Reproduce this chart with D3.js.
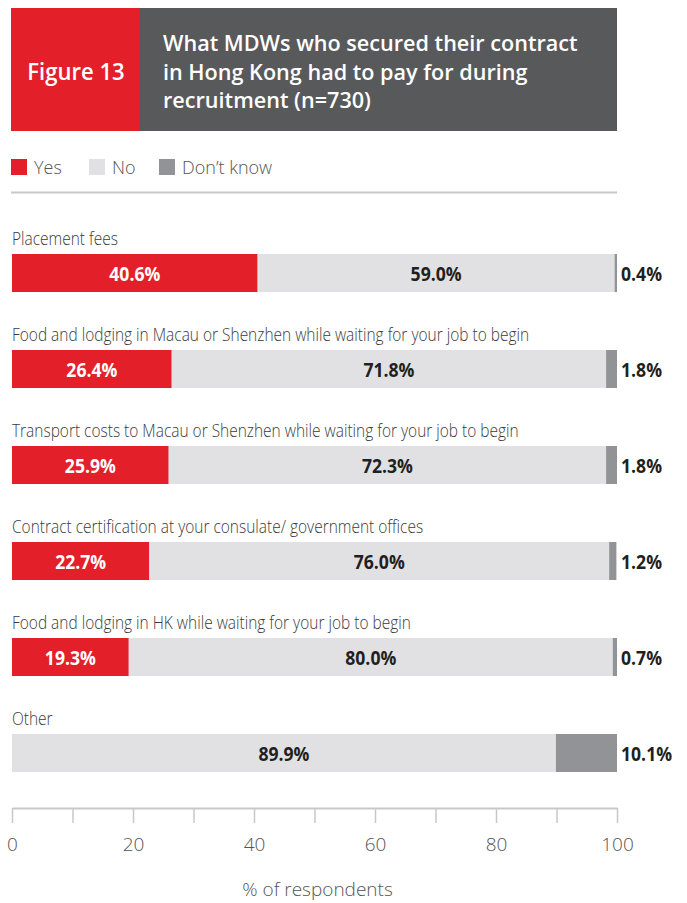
<!DOCTYPE html>
<html>
<head>
<meta charset="utf-8">
<script src="https://cdn.jsdelivr.net/npm/d3@7"></script>
<style>
  html, body { margin: 0; padding: 0; background: #fff; }
  svg { display: block; font-family: "Open Sans", "Noto Sans", sans-serif; }
</style>
</head>
<body>
<svg id="chart" width="687" height="903"></svg>
<script>
// Survey items and the share of respondents answering Yes / No / Don't know
const categories = [
  "Placement fees",
  "Food and lodging in Macau or Shenzhen while waiting for your job to begin",
  "Transport costs to Macau or Shenzhen while waiting for your job to begin",
  "Contract certification at your consulate/ government offices",
  "Food and lodging in HK while waiting for your job to begin",
  "Other"
];
const yesValues = [40.6, 26.4, 25.9, 22.7, 19.3, 0];
const noValues = [59.0, 71.8, 72.3, 76.0, 80.0, 89.9];
const dontKnowValues = [0.4, 1.8, 1.8, 1.2, 0.7, 10.1];
const seriesNames = ["Yes", "No", "Don\u2019t know"];
const tickValues = [0, 10, 20, 30, 40, 50, 60, 70, 80, 90, 100];
const tickLabels = ["0", "", "20", "", "40", "", "60", "", "80", "", "100"];
const figureLabel = "Figure 13";
const titleLines = [
  "What MDWs who secured their contract",
  "in Hong Kong had to pay for during",
  "recruitment (n=730)"
];
const axisTitle = "% of respondents";

const colors = { "Yes": "#e31f2a", "No": "#e1e1e3", "Don\u2019t know": "#929396" };

const svg = d3.select("#chart");

// condensed text: draw in a group squeezed horizontally
function ctext(parent, x, y, str, sx) {
  const g = parent.append("g").attr("transform", `translate(${x},${y}) scale(${sx},1)`);
  return g.append("text").attr("x", 0).attr("y", 0).text(str);
}

// ---------- header ----------
svg.append("rect").attr("x", 11).attr("y", 8).attr("width", 129).attr("height", 123).attr("fill", "#e31f2a");
svg.append("rect").attr("x", 140).attr("y", 8).attr("width", 477).attr("height", 123).attr("fill", "#58595b");
ctext(svg, 76, 80, figureLabel, 0.98)
  .attr("text-anchor", "middle").attr("fill", "#fff")
  .attr("font-size", 22.5).attr("font-weight", 600);
titleLines.forEach((t, i) => {
  ctext(svg, 163, 51 + i * 28.7, t, 1.03)
    .attr("fill", "#fff").attr("font-size", 21).attr("font-weight", 600);
});

// ---------- legend ----------
const legendX = [11, 89, 159];
seriesNames.forEach((s, i) => {
  svg.append("rect").attr("x", legendX[i]).attr("y", 159).attr("width", 16).attr("height", 16).attr("fill", colors[s]);
  ctext(svg, legendX[i] + 23, 174, s, 1.0)
    .attr("fill", "#555").attr("font-size", 18).attr("font-weight", 300);
});
svg.append("line").attr("x1", 11).attr("x2", 617).attr("y1", 192.5).attr("y2", 192.5)
  .attr("stroke", "#c8c8c8").attr("stroke-width", 2);

// ---------- scales ----------
const x = d3.scaleLinear().domain([0, 100]).range([12, 617]);
const y = d3.scaleBand().domain(categories).range([222, 798]);

const rows = categories.map((c, i) => ({
  cat: c,
  segs: [
    { key: "Yes", v0: 0, v1: yesValues[i], val: yesValues[i] },
    { key: "No", v0: yesValues[i], v1: yesValues[i] + noValues[i], val: noValues[i] },
    { key: "Don\u2019t know", v0: yesValues[i] + noValues[i], v1: yesValues[i] + noValues[i] + dontKnowValues[i], val: dontKnowValues[i] }
  ]
}));

const barTop = 32, barH = 38;

const row = svg.selectAll("g.row").data(rows).join("g").attr("class", "row")
  .attr("transform", d => `translate(0,${y(d.cat)})`);

row.each(function (d) {
  const g = d3.select(this);
  ctext(g, 12, 23, d.cat, 0.86)
    .attr("fill", "#3a3a3a").attr("font-size", 18).attr("font-weight", 300);
  d.segs.forEach(s => {
    if (s.val <= 0) return;
    g.append("rect")
      .attr("x", x(s.v0)).attr("y", barTop)
      .attr("width", x(s.v1) - x(s.v0)).attr("height", barH)
      .attr("fill", colors[s.key]);
  });
  d.segs.forEach(s => {
    if (s.val <= 0) return;
    const label = s.val.toFixed(1) + "%";
    if (s.key === "Don\u2019t know") {
      ctext(g, x(100) + 4, barTop + barH / 2 + 7.5, label, 0.88)
        .attr("fill", "#231f20").attr("font-size", 20).attr("font-weight", 700);
    } else {
      ctext(g, (x(s.v0) + x(s.v1)) / 2, barTop + barH / 2 + 7.5, label, 0.88)
        .attr("text-anchor", "middle")
        .attr("fill", s.key === "Yes" ? "#fff" : "#231f20")
        .attr("font-size", 20).attr("font-weight", 700);
    }
  });
});

// ---------- axis ----------
const axisY = 808;
const axisG = svg.append("g").attr("transform", `translate(0,${axisY})`)
  .call(d3.axisBottom(x).tickValues(tickValues).tickSize(15).tickSizeOuter(0).tickFormat((d, i) => tickLabels[i]));
axisG.select(".domain").attr("stroke", "#c8c8c8").attr("stroke-width", 2);
axisG.selectAll(".tick line").attr("stroke", "#c8c8c8").attr("stroke-width", 1.5);
axisG.selectAll(".tick text")
  .attr("y", 43).attr("dy", 0)
  .attr("fill", "#555").attr("font-size", 19).attr("font-weight", 300)
  .attr("font-family", "\"Open Sans\", sans-serif");

ctext(svg, x(50) + 3, 896, axisTitle, 1.0)
  .attr("text-anchor", "middle").attr("fill", "#555").attr("font-size", 19).attr("font-weight", 300);
</script>
</body>
</html>
